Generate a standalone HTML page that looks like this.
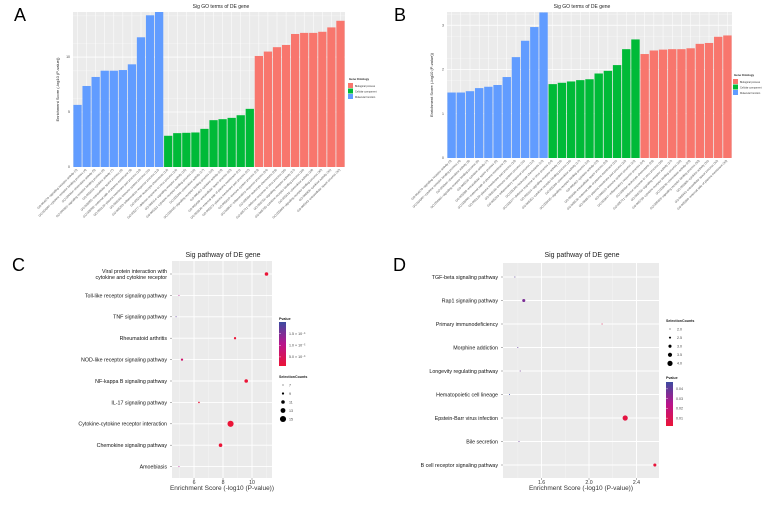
<!DOCTYPE html>
<html><head><meta charset="utf-8">
<style>
html,body{margin:0;padding:0;background:#fff;}
svg{display:block;font-family:"Liberation Sans",sans-serif;}
</style></head>
<body>
<svg id="fig" width="783" height="513" viewBox="0 0 783 513" xmlns="http://www.w3.org/2000/svg">
<text x="14" y="21" font-size="18">A</text>
<text x="394" y="21" font-size="18">B</text>
<text x="12" y="271" font-size="18">C</text>
<text x="393" y="271" font-size="18">D</text>
<g id="gA"></g>
<g id="gB"></g>
<g id="gC"></g>
<g id="gD"></g>
</svg>
<script>
// ---------- Panel A data ----------
const aBlue = [5.65,7.37,8.19,8.76,8.76,8.82,9.34,11.8,13.8,14.1];
const aGreen = [2.84,3.08,3.11,3.14,3.47,4.26,4.35,4.47,4.71,5.29];
const aRed = [10.1,10.5,10.9,11.1,12.1,12.2,12.2,12.3,12.7,13.3];
const aTicks = [0,5,10];
// ---------- Panel B data ----------
const bBlue = [1.48,1.48,1.51,1.58,1.61,1.65,1.83,2.28,2.65,2.96,3.29];
const bGreen = [1.67,1.70,1.73,1.76,1.78,1.91,1.97,2.10,2.46,2.68];
const bRed = [2.35,2.43,2.45,2.46,2.46,2.48,2.58,2.60,2.74,2.77];
const bTicks = [0,1,2,3];
// ---------- Panel C data ----------
const cCats = ["Viral protein interaction with|cytokine and cytokine receptor","Toll-like receptor signaling pathway","TNF signaling pathway","Rheumatoid arthritis","NOD-like receptor signaling pathway","NF-kappa B signaling pathway","IL-17 signaling pathway","Cytokine-cytokine receptor interaction","Chemokine signaling pathway","Amoebiasis"];
const cScores = [11.0,4.96,4.76,8.83,5.17,9.6,6.34,8.52,7.83,4.96];
const cCounts = [11,7,7,9,9,11,8,15,11,7];
const cTicks = [6,8,10];
const cLegendCounts = [7,9,11,13,15];
const cLegendP = ["1.5 \u00d7 10\u207b\u2075","1.0 \u00d7 10\u207b\u2075","5.0 \u00d7 10\u207b\u2076"];
// ---------- Panel D data ----------
const dCats = ["TGF-beta signaling pathway","Rap1 signaling pathway","Primary immunodeficiency","Morphine addiction","Longevity regulating pathway","Hematopoietic cell lineage","Epstein-Barr virus infection","Bile secretion","B cell receptor signaling pathway"];
const dScores = [1.375,1.45,2.11,1.40,1.42,1.33,2.305,1.41,2.555];
const dCounts = [2,3,2,2,2,2,4,2,3];
const dTicks = [1.6,2.0,2.4];
const dLegendCounts = [2.0,2.5,3.0,3.5,4.0];
const dLegendP = [0.04,0.03,0.02,0.01];

const NS="http://www.w3.org/2000/svg";
function mk(parent,tag,attrs,txt){const e=document.createElementNS(NS,tag);for(const k in attrs)e.setAttribute(k,attrs[k]);if(txt!==undefined)e.textContent=txt;parent.appendChild(e);return e;}
const COL={blue:"#619CFF",green:"#00BA38",red:"#F8766D"};
function pcol(t){
  t=Math.max(0,Math.min(1,t));
  const a=[235,20,55],m=[185,20,140],b=[60,75,160];
  let c;
  if(t<0.5){const u=t/0.5;c=a.map((v,i)=>Math.round(v+(m[i]-v)*u));}
  else{const u=(t-0.5)/0.5;c=m.map((v,i)=>Math.round(v+(b[i]-v)*u));}
  return `rgb(${c[0]},${c[1]},${c[2]})`;
}
const goWords=["signaling receptor activity","cytokine receptor binding","chemokine activity","signaling receptor binding","cytokine activity","extracellular space","external side of plasma membrane","plasma membrane part","immune system process","inflammatory response","leukocyte chemotaxis","defense response to virus"];

function barPanel(g,L,R,T,B,maxV,ticks,minorStep,groups,title,titleX,legX,legY){
  const sy=v=>B-(v/maxV)*(B-T);
  mk(g,"rect",{x:L,y:T,width:R-L,height:B-T,fill:"#EBEBEB"});
  for(let v=minorStep/2; v<maxV; v+=minorStep){ if(Math.abs(v/minorStep-Math.round(v/minorStep))>0.01) mk(g,"line",{x1:L,x2:R,y1:sy(v),y2:sy(v),stroke:"#F5F5F5","stroke-width":0.5}); }
  ticks.forEach(v=>{mk(g,"line",{x1:L,x2:R,y1:sy(v),y2:sy(v),stroke:"#fff","stroke-width":0.8});
    const t=mk(g,"text",{x:L-3,y:sy(v)+1,"font-size":3.5,"text-anchor":"end",fill:"#444"},String(v));
    
    });
  const all=[];groups.forEach(gr=>gr.vals.forEach(v=>all.push({v,c:gr.col})));
  const n=all.length,bw=(R-L)/n;
  all.forEach((d,i)=>{
    const cx=L+bw*(i+0.5);
    mk(g,"line",{x1:cx,x2:cx,y1:T,y2:B,stroke:"#fff","stroke-width":0.5});
  });
  all.forEach((d,i)=>{
    const x=L+bw*i, y=sy(Math.min(d.v,maxV));
    const r=mk(g,"rect",{x:x+0.4,y:y,width:bw-0.8,height:B-y,fill:d.c});
    
    
    const cx=x+bw/2;
    const lab="GO:00"+(4870+i*37)+"~"+goWords[i%goWords.length]+(i%2?" process":"")+" ("+(i+3)+")";
    const t=mk(g,"text",{x:cx,y:B+3,"font-size":3,"text-anchor":"end",fill:"#555",transform:`rotate(-45 ${cx} ${B+3})`},lab);
    
    
  });
  const tt=mk(g,"text",{x:titleX,y:8,"font-size":5,"text-anchor":"middle",fill:"#222"},title);
  
  
  const yl=mk(g,"text",{x:0,y:0,"font-size":4,"text-anchor":"middle",fill:"#222",transform:`translate(${L-14},${(T+B)/2}) rotate(-90)`},"Enrichment Score (-log10 (P-value))");
  
  
  const lg=mk(g,"g",{});
  
  
  mk(lg,"text",{x:legX,y:legY,"font-size":2.8,"font-weight":"bold",fill:"#222"},"Gene Ontology");
  [["Biological process",COL.red],["Cellular component",COL.green],["Molecular function",COL.blue]].forEach((e,i)=>{
    const it=mk(lg,"g",{});
    
    
    mk(it,"rect",{x:legX-1,y:legY+3+i*5.5,width:5,height:5,fill:e[1]});
    mk(it,"text",{x:legX+6,y:legY+6.8+i*5.5,"font-size":2.5,fill:"#333"},e[0]);
  });
}
barPanel(document.getElementById("gA"),73,345,12,167,14.1,aTicks,2.5,[{vals:aBlue,col:COL.blue},{vals:aGreen,col:COL.green},{vals:aRed,col:COL.red}],"Sig GO terms of DE gene",221,349,80);
barPanel(document.getElementById("gB"),447,732,12,158,3.3,bTicks,0.5,[{vals:bBlue,col:COL.blue},{vals:bGreen,col:COL.green},{vals:bRed,col:COL.red}],"Sig GO terms of DE gene",582,734,76);

function dotPanel(g,L,R,T,B,xmin,xmax,cats,scores,counts,ticks,tickFmt,cy0,cyStep,rOf,colOf,title,titleX){
  const sx=v=>L+(v-xmin)/(xmax-xmin)*(R-L);
  const sy=i=>cy0+i*cyStep;
  mk(g,"rect",{x:L,y:T,width:R-L,height:B-T,fill:"#EBEBEB"});
  for(let k=0;k<ticks.length+1;k++){
    const step=ticks[1]-ticks[0];const v=ticks[0]-step/2+k*step;
    if(v>xmin&&v<xmax) mk(g,"line",{x1:sx(v),x2:sx(v),y1:T,y2:B,stroke:"#F4F4F4","stroke-width":0.5});
  }
  ticks.forEach(v=>{mk(g,"line",{x1:sx(v),x2:sx(v),y1:T,y2:B,stroke:"#fff","stroke-width":0.9});
    mk(g,"line",{x1:sx(v),x2:sx(v),y1:B,y2:B+2,stroke:"#444","stroke-width":0.4});
    const t=mk(g,"text",{x:sx(v),y:B+6,"font-size":5.2,"text-anchor":"middle",fill:"#333"},tickFmt(v));
    
    });
  cats.forEach((c,i)=>{
    const y=sy(i);
    mk(g,"line",{x1:L,x2:R,y1:y,y2:y,stroke:"#fff","stroke-width":0.9});
    mk(g,"line",{x1:L-2,x2:L,y1:y,y2:y,stroke:"#444","stroke-width":0.4});
    const parts=c.split("|");
    parts.forEach((p,j)=>{
      const t=mk(g,"text",{x:L-5,y:y+1.9+(j-(parts.length-1)/2)*6.2,"font-size":5.3,"text-anchor":"end",fill:"#111"},p);
      
      
    });
  });
  scores.forEach((s,i)=>{
    const c=mk(g,"circle",{cx:sx(s),cy:sy(i),r:rOf(counts[i]),fill:colOf(s)});
    
    
  });
  const tt=mk(g,"text",{x:titleX,y:257,"font-size":7,"text-anchor":"middle",fill:"#222"},title);
  
  
  const xl=mk(g,"text",{x:(L+R)/2,y:B+12,"font-size":6.5,"text-anchor":"middle",fill:"#333"},"Enrichment Score (-log10 (P-value))");
  
  
  return {sx,sy};
}
// Panel C
const gC=document.getElementById("gC");
const cR=n=>0.5+(n-7)*0.32;
const cPmin=1.1e-6,cPmax=2.0e-5;
const cCol=s=>pcol((Math.pow(10,-s)-cPmin)/(cPmax-cPmin));
dotPanel(gC,172,272,261,478,4.48,11.38,cCats,cScores,cCounts,cTicks,v=>String(v),274,21.4,cR,cCol,"Sig pathway of DE gene",223);
(function(){
  const lg=mk(gC,"g",{});
  
  
  mk(lg,"text",{x:279,y:320,"font-size":3.6,"font-weight":"bold",fill:"#222"},"Pvalue");
  const defs=mk(lg,"defs",{});
  const gr=mk(defs,"linearGradient",{id:"gradC",x1:0,y1:1,x2:0,y2:0});
  for(let k=0;k<=10;k++) mk(gr,"stop",{offset:k/10,"stop-color":pcol(k/10)});
  const cb=mk(lg,"rect",{x:279,y:322,width:7,height:44,fill:"url(#gradC)"});
  
  
  const pv=[1.5e-5,1.0e-5,5.0e-6];
  cLegendP.forEach((l,i)=>{const y=366-(pv[i]-cPmin)/(cPmax-cPmin)*44;
    mk(lg,"line",{x1:279,x2:281,y1:y,y2:y,stroke:"#fff","stroke-width":0.4});
    mk(lg,"text",{x:289,y:y+1.3,"font-size":3.6,fill:"#444"},l);});
  mk(lg,"text",{x:279,y:378,"font-size":3.6,"font-weight":"bold",fill:"#222"},"SelectionCounts");
  cLegendCounts.forEach((n,i)=>{const y=385+i*8.5;
    const it=mk(lg,"g",{});
    
    
    mk(it,"circle",{cx:283,cy:y,r:cR(n),fill:"#000"});
    mk(it,"text",{x:289,y:y+1.3,"font-size":3.6,fill:"#444"},String(n));});
})();
// Panel D
const gD=document.getElementById("gD");
const dR=n=>0.5+(n-2)*1.05;
const dPmin=0.002,dPmax=0.047;
const dCol=s=>pcol((Math.pow(10,-s)-dPmin)/(dPmax-dPmin));
dotPanel(gD,503,659,263,478,1.275,2.59,dCats,dScores,dCounts,dTicks,v=>v.toFixed(1),277,23.5,dR,dCol,"Sig pathway of DE gene",582);
(function(){
  const lg=mk(gD,"g",{});
  
  
  mk(lg,"text",{x:666,y:322,"font-size":3.6,"font-weight":"bold",fill:"#222"},"SelectionCounts");
  dLegendCounts.forEach((n,i)=>{const y=329+i*8.6;
    const it=mk(lg,"g",{});
    
    
    mk(it,"circle",{cx:670,cy:y,r:dR(n),fill:"#000"});
    mk(it,"text",{x:677,y:y+1.3,"font-size":3.6,fill:"#444"},n.toFixed(1));});
  mk(lg,"text",{x:666,y:379,"font-size":3.6,"font-weight":"bold",fill:"#222"},"Pvalue");
  const defs=mk(lg,"defs",{});
  const gr=mk(defs,"linearGradient",{id:"gradD",x1:0,y1:1,x2:0,y2:0});
  for(let k=0;k<=10;k++) mk(gr,"stop",{offset:k/10,"stop-color":pcol(k/10)});
  const cb=mk(lg,"rect",{x:666,y:382,width:7,height:44,fill:"url(#gradD)"});
  
  
  dLegendP.forEach(p=>{const y=426-(p-dPmin)/(dPmax-dPmin)*44;
    mk(lg,"line",{x1:666,x2:668,y1:y,y2:y,stroke:"#fff","stroke-width":0.4});
    mk(lg,"text",{x:676,y:y+1.3,"font-size":3.6,fill:"#444"},p.toFixed(2));});
})();
</script>
</body></html>
